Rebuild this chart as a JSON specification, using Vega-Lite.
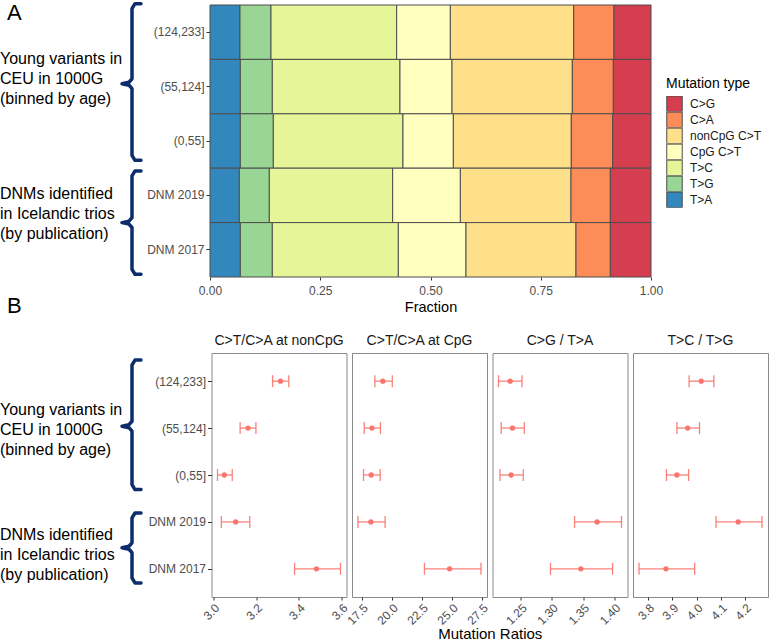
{
  "$schema": "https://vega.github.io/schema/vega-lite/v6.json",
  "padding": {"left": 0, "top": 1, "right": 0, "bottom": 0},
  "config": {
    "font": "Liberation Sans",
    "view": {"stroke": "#8a8a8a", "strokeWidth": 1},
    "axis": {"labelColor": "#4d4d4d", "labelFontSize": 12, "tickColor": "#333333", "tickSize": 4, "domain": false, "grid": false, "titleColor": "#000000", "titleFontWeight": "normal", "labelFont": "Liberation Sans", "titleFont": "Liberation Sans", "labelOverlap": false},
    "title": {"fontWeight": "normal", "color": "#1a1a1a", "font": "Liberation Sans"},
    "legend": {"labelFont": "Liberation Sans", "titleFont": "Liberation Sans"}
  },
  "datasets": {
    "fractions": [
      {"group": "(124,233]", "type": "T>A", "k": 1, "fraction": 0.068},
      {"group": "(124,233]", "type": "T>G", "k": 2, "fraction": 0.0703},
      {"group": "(124,233]", "type": "T>C", "k": 3, "fraction": 0.285},
      {"group": "(124,233]", "type": "CpG C>T", "k": 4, "fraction": 0.1217},
      {"group": "(124,233]", "type": "nonCpG C>T", "k": 5, "fraction": 0.2797},
      {"group": "(124,233]", "type": "C>A", "k": 6, "fraction": 0.0914},
      {"group": "(124,233]", "type": "C>G", "k": 7, "fraction": 0.0839},
      {"group": "(55,124]", "type": "T>A", "k": 1, "fraction": 0.0688},
      {"group": "(55,124]", "type": "T>G", "k": 2, "fraction": 0.0725},
      {"group": "(55,124]", "type": "T>C", "k": 3, "fraction": 0.2895},
      {"group": "(55,124]", "type": "CpG C>T", "k": 4, "fraction": 0.118},
      {"group": "(55,124]", "type": "nonCpG C>T", "k": 5, "fraction": 0.2728},
      {"group": "(55,124]", "type": "C>A", "k": 6, "fraction": 0.093},
      {"group": "(55,124]", "type": "C>G", "k": 7, "fraction": 0.0854},
      {"group": "(0,55]", "type": "T>A", "k": 1, "fraction": 0.0688},
      {"group": "(0,55]", "type": "T>G", "k": 2, "fraction": 0.0748},
      {"group": "(0,55]", "type": "T>C", "k": 3, "fraction": 0.294},
      {"group": "(0,55]", "type": "CpG C>T", "k": 4, "fraction": 0.1142},
      {"group": "(0,55]", "type": "nonCpG C>T", "k": 5, "fraction": 0.2675},
      {"group": "(0,55]", "type": "C>A", "k": 6, "fraction": 0.0938},
      {"group": "(0,55]", "type": "C>G", "k": 7, "fraction": 0.0869},
      {"group": "DNM 2019", "type": "T>A", "k": 1, "fraction": 0.0665},
      {"group": "DNM 2019", "type": "T>G", "k": 2, "fraction": 0.068},
      {"group": "DNM 2019", "type": "T>C", "k": 3, "fraction": 0.2797},
      {"group": "DNM 2019", "type": "CpG C>T", "k": 4, "fraction": 0.1535},
      {"group": "DNM 2019", "type": "nonCpG C>T", "k": 5, "fraction": 0.2509},
      {"group": "DNM 2019", "type": "C>A", "k": 6, "fraction": 0.0892},
      {"group": "DNM 2019", "type": "C>G", "k": 7, "fraction": 0.0922},
      {"group": "DNM 2017", "type": "T>A", "k": 1, "fraction": 0.0688},
      {"group": "DNM 2017", "type": "T>G", "k": 2, "fraction": 0.0725},
      {"group": "DNM 2017", "type": "T>C", "k": 3, "fraction": 0.2858},
      {"group": "DNM 2017", "type": "CpG C>T", "k": 4, "fraction": 0.1534},
      {"group": "DNM 2017", "type": "nonCpG C>T", "k": 5, "fraction": 0.2494},
      {"group": "DNM 2017", "type": "C>A", "k": 6, "fraction": 0.0779},
      {"group": "DNM 2017", "type": "C>G", "k": 7, "fraction": 0.0922}
    ],
    "ratios": [
      {"ratio": "C>T/C>A at nonCpG", "group": "(124,233]", "value": 3.314, "lo": 3.277, "hi": 3.353},
      {"ratio": "C>T/C>A at nonCpG", "group": "(55,124]", "value": 3.162, "lo": 3.125, "hi": 3.199},
      {"ratio": "C>T/C>A at nonCpG", "group": "(0,55]", "value": 3.051, "lo": 3.019, "hi": 3.088},
      {"ratio": "C>T/C>A at nonCpG", "group": "DNM 2019", "value": 3.104, "lo": 3.037, "hi": 3.17},
      {"ratio": "C>T/C>A at nonCpG", "group": "DNM 2017", "value": 3.482, "lo": 3.38, "hi": 3.595},
      {"ratio": "C>T/C>A at CpG", "group": "(124,233]", "value": 19.24, "lo": 18.58, "hi": 20.03},
      {"ratio": "C>T/C>A at CpG", "group": "(55,124]", "value": 18.33, "lo": 17.69, "hi": 19.04},
      {"ratio": "C>T/C>A at CpG", "group": "(0,55]", "value": 18.27, "lo": 17.63, "hi": 19.02},
      {"ratio": "C>T/C>A at CpG", "group": "DNM 2019", "value": 18.24, "lo": 17.17, "hi": 19.43},
      {"ratio": "C>T/C>A at CpG", "group": "DNM 2017", "value": 24.81, "lo": 22.71, "hi": 27.43},
      {"ratio": "C>G / T>A", "group": "(124,233]", "value": 1.233, "lo": 1.2144, "hi": 1.252},
      {"ratio": "C>G / T>A", "group": "(55,124]", "value": 1.2367, "lo": 1.2187, "hi": 1.2557},
      {"ratio": "C>G / T>A", "group": "(0,55]", "value": 1.2346, "lo": 1.2167, "hi": 1.2541},
      {"ratio": "C>G / T>A", "group": "DNM 2019", "value": 1.3722, "lo": 1.3362, "hi": 1.4113},
      {"ratio": "C>G / T>A", "group": "DNM 2017", "value": 1.3462, "lo": 1.2976, "hi": 1.397},
      {"ratio": "T>C / T>G", "group": "(124,233]", "value": 4.019, "lo": 3.969, "hi": 4.071},
      {"ratio": "T>C / T>G", "group": "(55,124]", "value": 3.963, "lo": 3.919, "hi": 4.012},
      {"ratio": "T>C / T>G", "group": "(0,55]", "value": 3.919, "lo": 3.876, "hi": 3.967},
      {"ratio": "T>C / T>G", "group": "DNM 2019", "value": 4.171, "lo": 4.08, "hi": 4.269},
      {"ratio": "T>C / T>G", "group": "DNM 2017", "value": 3.874, "lo": 3.763, "hi": 3.992}
    ],
    "bracesA": [
      {"b": "A1", "i": 1, "x": 141, "y": -0.024},
      {"b": "A1", "i": 2, "x": 135, "y": -0.024},
      {"b": "A1", "i": 3, "x": 132, "y": 0.066},
      {"b": "A1", "i": 4, "x": 132, "y": 1.357},
      {"b": "A1", "i": 5, "x": 129, "y": 1.42},
      {"b": "A1", "i": 6, "x": 122, "y": 1.447},
      {"b": "A1", "i": 7, "x": 129, "y": 1.474},
      {"b": "A1", "i": 8, "x": 132, "y": 1.537},
      {"b": "A1", "i": 9, "x": 132, "y": 2.765},
      {"b": "A1", "i": 10, "x": 135, "y": 2.855},
      {"b": "A1", "i": 11, "x": 141, "y": 2.855},
      {"b": "A2", "i": 1, "x": 141, "y": 3.05},
      {"b": "A2", "i": 2, "x": 135, "y": 3.05},
      {"b": "A2", "i": 3, "x": 132, "y": 3.14},
      {"b": "A2", "i": 4, "x": 132, "y": 3.91},
      {"b": "A2", "i": 5, "x": 129, "y": 3.973},
      {"b": "A2", "i": 6, "x": 122, "y": 4.0},
      {"b": "A2", "i": 7, "x": 129, "y": 4.027},
      {"b": "A2", "i": 8, "x": 132, "y": 4.09},
      {"b": "A2", "i": 9, "x": 132, "y": 4.86},
      {"b": "A2", "i": 10, "x": 135, "y": 4.95},
      {"b": "A2", "i": 11, "x": 141, "y": 4.95}
    ],
    "bracesB": [
      {"b": "B1", "i": 1, "x": 141, "y": -0.45},
      {"b": "B1", "i": 2, "x": 135, "y": -0.45},
      {"b": "B1", "i": 3, "x": 132, "y": -0.345},
      {"b": "B1", "i": 4, "x": 132, "y": 0.855},
      {"b": "B1", "i": 5, "x": 129, "y": 0.928},
      {"b": "B1", "i": 6, "x": 122, "y": 0.96},
      {"b": "B1", "i": 7, "x": 129, "y": 0.992},
      {"b": "B1", "i": 8, "x": 132, "y": 1.065},
      {"b": "B1", "i": 9, "x": 132, "y": 2.205},
      {"b": "B1", "i": 10, "x": 135, "y": 2.31},
      {"b": "B1", "i": 11, "x": 141, "y": 2.31},
      {"b": "B2", "i": 1, "x": 141, "y": 2.81},
      {"b": "B2", "i": 2, "x": 135, "y": 2.81},
      {"b": "B2", "i": 3, "x": 132, "y": 2.915},
      {"b": "B2", "i": 4, "x": 132, "y": 3.445},
      {"b": "B2", "i": 5, "x": 129, "y": 3.518},
      {"b": "B2", "i": 6, "x": 122, "y": 3.55},
      {"b": "B2", "i": 7, "x": 129, "y": 3.582},
      {"b": "B2", "i": 8, "x": 132, "y": 3.655},
      {"b": "B2", "i": 9, "x": 132, "y": 4.195},
      {"b": "B2", "i": 10, "x": 135, "y": 4.3},
      {"b": "B2", "i": 11, "x": 141, "y": 4.3}
    ],
    "labelsA": [
      {"t": "Young variants in\nCEU in 1000G\n(binned by age)", "x": 0, "y": 1.09},
      {"t": "DNMs identified\nin Icelandic trios\n(by publication)", "x": 0, "y": 3.56}
    ],
    "lettersA": [
      {"t": "A", "x": 7, "y": 0.276},
      {"t": "B", "x": 7, "y": 5.656}
    ],
    "labelsB": [
      {"t": "Young variants in\nCEU in 1000G\n(binned by age)", "x": 0, "y": 0.72},
      {"t": "DNMs identified\nin Icelandic trios\n(by publication)", "x": 0, "y": 3.38}
    ]
  },
  "vconcat": [
    {
      "hconcat": [
        {
          "width": 205,
          "height": 272,
          "view": {"stroke": null},
          "layer": [
            {
              "data": {"name": "bracesA"},
              "mark": {"type": "line", "color": "#0c2c6c", "strokeWidth": 3.5, "strokeJoin": "round", "strokeCap": "round"},
              "encoding": {
                "x": {"field": "x", "type": "quantitative", "scale": {"domain": [0, 205], "nice": false}, "axis": null},
                "y": {"field": "y", "type": "quantitative", "scale": {"domain": [0, 5], "reverse": true, "nice": false}, "axis": null},
                "detail": {"field": "b", "type": "nominal"},
                "order": {"field": "i", "type": "quantitative"}
              }
            },
            {
              "data": {"name": "labelsA"},
              "mark": {"type": "text", "align": "left", "baseline": "alphabetic", "lineBreak": "\n", "lineHeight": 20, "fontSize": 16, "color": "#000000"},
              "encoding": {
                "x": {"field": "x", "type": "quantitative"},
                "y": {"field": "y", "type": "quantitative"},
                "text": {"field": "t"}
              }
            },
            {
              "data": {"name": "lettersA"},
              "mark": {"type": "text", "align": "left", "baseline": "alphabetic", "fontSize": 22, "color": "#000000"},
              "encoding": {
                "x": {"field": "x", "type": "quantitative"},
                "y": {"field": "y", "type": "quantitative"},
                "text": {"field": "t"}
              }
            }
          ]
        },
        {
          "width": 441,
          "height": 272,
          "view": {"stroke": null},
          "data": {"name": "fractions"},
          "mark": {"type": "bar", "stroke": "#4d4d4d", "strokeWidth": 1},
          "encoding": {
            "y": {"field": "group", "type": "nominal", "sort": ["(124,233]", "(55,124]", "(0,55]", "DNM 2019", "DNM 2017"], "scale": {"paddingInner": 0, "paddingOuter": 0}, "axis": {"title": null, "labelPadding": 2}},
            "x": {"field": "fraction", "type": "quantitative", "stack": "zero", "scale": {"domain": [0, 1], "nice": false}, "axis": {"title": "Fraction", "values": [0, 0.25, 0.5, 0.75, 1], "format": ".2f", "labelFlush": false, "tickSize": 3, "labelPadding": 5, "titleFontSize": 14.5, "titlePadding": 4, "tickCount": 10}},
            "color": {
              "field": "type", "type": "nominal",
              "scale": {"domain": ["C>G", "C>A", "nonCpG C>T", "CpG C>T", "T>C", "T>G", "T>A"], "range": ["#d53e4f", "#fc8d59", "#fee08b", "#ffffbf", "#e6f598", "#99d594", "#3288bd"]},
              "legend": {"title": "Mutation type", "orient": "none", "legendX": 666, "legendY": 72, "titleFontSize": 14, "titleFontWeight": "normal", "titleColor": "#000000", "titlePadding": 5, "labelFontSize": 12, "labelColor": "#1a1a1a", "symbolType": "square", "symbolSize": 240, "symbolStrokeColor": "#4d4d4d", "symbolStrokeWidth": 1, "symbolOpacity": 1, "rowPadding": 0, "clipHeight": 15.7, "labelOffset": 7}
            },
            "order": {"field": "k", "type": "quantitative"}
          }
        }
      ],
      "spacing": 5,
      "bounds": "flush"
    },
    {
      "hconcat": [
        {
          "width": 206,
          "height": 244,
          "view": {"stroke": null},
          "layer": [
            {
              "data": {"name": "bracesB"},
              "mark": {"type": "line", "color": "#0c2c6c", "strokeWidth": 3.5, "strokeJoin": "round", "strokeCap": "round"},
              "encoding": {
                "x": {"field": "x", "type": "quantitative", "scale": {"domain": [0, 206], "nice": false}, "axis": null},
                "y": {"field": "y", "type": "quantitative", "scale": {"domain": [-0.6, 4.6], "reverse": true, "nice": false, "zero": false}, "axis": null},
                "detail": {"field": "b", "type": "nominal"},
                "order": {"field": "i", "type": "quantitative"}
              }
            },
            {
              "data": {"name": "labelsB"},
              "mark": {"type": "text", "align": "left", "baseline": "alphabetic", "lineBreak": "\n", "lineHeight": 20, "fontSize": 16, "color": "#000000"},
              "encoding": {
                "x": {"field": "x", "type": "quantitative"},
                "y": {"field": "y", "type": "quantitative"},
                "text": {"field": "t"}
              }
            }
          ]
        },
        {
          "width": 135,
          "height": 244,
          "title": {"text": "C>T/C>A at nonCpG", "fontSize": 14, "offset": 5},
          "data": {"name": "ratios"},
          "transform": [{"filter": {"field": "ratio", "equal": "C>T/C>A at nonCpG"}}],
          "encoding": {
            "y": {"field": "group", "type": "nominal", "sort": ["(124,233]", "(55,124]", "(0,55]", "DNM 2019", "DNM 2017"], "scale": {"type": "point", "padding": 0.6}, "axis": {"title": null, "labelPadding": 2}}
          },
          "layer": [
            {"mark": {"type": "rule", "color": "#f8766d", "strokeWidth": 1.3, "opacity": 0.9}, "encoding": {"x": {"field": "lo", "type": "quantitative", "scale": {"zero": false, "nice": false, "padding": 6}, "axis": {"title": null, "values": [3.0, 3.2, 3.4, 3.6], "tickCount": 10, "format": ".1f", "labelAngle": -45, "labelAlign": "right", "labelBaseline": "top", "tickSize": 3, "labelPadding": 2, "labelFlush": false, "labelOverlap": false}}, "x2": {"field": "hi"}}},
            {"mark": {"type": "tick", "color": "#f8766d", "size": 12, "thickness": 1.3, "opacity": 0.9}, "encoding": {"x": {"field": "lo", "type": "quantitative", "axis": {"title": null}}}},
            {"mark": {"type": "tick", "color": "#f8766d", "size": 12, "thickness": 1.3, "opacity": 0.9}, "encoding": {"x": {"field": "hi", "type": "quantitative", "axis": {"title": null}}}},
            {"mark": {"type": "point", "filled": true, "size": 28, "color": "#f8766d", "opacity": 1}, "encoding": {"x": {"field": "value", "type": "quantitative", "axis": {"title": null}}}}
          ]
        },
        {
          "width": 135,
          "height": 244,
          "title": {"text": "C>T/C>A at CpG", "fontSize": 14, "offset": 5},
          "data": {"name": "ratios"},
          "transform": [{"filter": {"field": "ratio", "equal": "C>T/C>A at CpG"}}],
          "encoding": {
            "y": {"field": "group", "type": "nominal", "sort": ["(124,233]", "(55,124]", "(0,55]", "DNM 2019", "DNM 2017"], "scale": {"type": "point", "padding": 0.6}, "axis": null}
          },
          "layer": [
            {"mark": {"type": "rule", "color": "#f8766d", "strokeWidth": 1.3, "opacity": 0.9}, "encoding": {"x": {"field": "lo", "type": "quantitative", "scale": {"zero": false, "nice": false, "padding": 6}, "axis": {"title": null, "values": [17.5, 20, 22.5, 25, 27.5], "tickCount": 10, "format": ".1f", "labelAngle": -45, "labelAlign": "right", "labelBaseline": "top", "tickSize": 3, "labelPadding": 2, "labelFlush": false, "labelOverlap": false}}, "x2": {"field": "hi"}}},
            {"mark": {"type": "tick", "color": "#f8766d", "size": 12, "thickness": 1.3, "opacity": 0.9}, "encoding": {"x": {"field": "lo", "type": "quantitative", "axis": {"title": null}}}},
            {"mark": {"type": "tick", "color": "#f8766d", "size": 12, "thickness": 1.3, "opacity": 0.9}, "encoding": {"x": {"field": "hi", "type": "quantitative", "axis": {"title": null}}}},
            {"mark": {"type": "point", "filled": true, "size": 28, "color": "#f8766d", "opacity": 1}, "encoding": {"x": {"field": "value", "type": "quantitative", "axis": {"title": null}}}}
          ]
        },
        {
          "width": 135,
          "height": 244,
          "title": {"text": "C>G / T>A", "fontSize": 14, "offset": 5},
          "data": {"name": "ratios"},
          "transform": [{"filter": {"field": "ratio", "equal": "C>G / T>A"}}],
          "encoding": {
            "y": {"field": "group", "type": "nominal", "sort": ["(124,233]", "(55,124]", "(0,55]", "DNM 2019", "DNM 2017"], "scale": {"type": "point", "padding": 0.6}, "axis": null}
          },
          "layer": [
            {"mark": {"type": "rule", "color": "#f8766d", "strokeWidth": 1.3, "opacity": 0.9}, "encoding": {"x": {"field": "lo", "type": "quantitative", "scale": {"zero": false, "nice": false, "padding": 6}, "axis": {"title": null, "values": [1.25, 1.3, 1.35, 1.4], "tickCount": 10, "format": ".2f", "labelAngle": -45, "labelAlign": "right", "labelBaseline": "top", "tickSize": 3, "labelPadding": 2, "labelFlush": false, "labelOverlap": false}}, "x2": {"field": "hi"}}},
            {"mark": {"type": "tick", "color": "#f8766d", "size": 12, "thickness": 1.3, "opacity": 0.9}, "encoding": {"x": {"field": "lo", "type": "quantitative", "axis": {"title": null}}}},
            {"mark": {"type": "tick", "color": "#f8766d", "size": 12, "thickness": 1.3, "opacity": 0.9}, "encoding": {"x": {"field": "hi", "type": "quantitative", "axis": {"title": null}}}},
            {"mark": {"type": "point", "filled": true, "size": 28, "color": "#f8766d", "opacity": 1}, "encoding": {"x": {"field": "value", "type": "quantitative", "axis": {"title": null}}}}
          ]
        },
        {
          "width": 135,
          "height": 244,
          "title": {"text": "T>C / T>G", "fontSize": 14, "offset": 5},
          "data": {"name": "ratios"},
          "transform": [{"filter": {"field": "ratio", "equal": "T>C / T>G"}}],
          "encoding": {
            "y": {"field": "group", "type": "nominal", "sort": ["(124,233]", "(55,124]", "(0,55]", "DNM 2019", "DNM 2017"], "scale": {"type": "point", "padding": 0.6}, "axis": null}
          },
          "layer": [
            {"mark": {"type": "rule", "color": "#f8766d", "strokeWidth": 1.3, "opacity": 0.9}, "encoding": {"x": {"field": "lo", "type": "quantitative", "scale": {"zero": false, "nice": false, "padding": 6}, "axis": {"title": null, "values": [3.8, 3.9, 4.0, 4.1, 4.2], "tickCount": 10, "format": ".1f", "labelAngle": -45, "labelAlign": "right", "labelBaseline": "top", "tickSize": 3, "labelPadding": 2, "labelFlush": false, "labelOverlap": false}}, "x2": {"field": "hi"}}},
            {"mark": {"type": "tick", "color": "#f8766d", "size": 12, "thickness": 1.3, "opacity": 0.9}, "encoding": {"x": {"field": "lo", "type": "quantitative", "axis": {"title": null}}}},
            {"mark": {"type": "tick", "color": "#f8766d", "size": 12, "thickness": 1.3, "opacity": 0.9}, "encoding": {"x": {"field": "hi", "type": "quantitative", "axis": {"title": null}}}},
            {"mark": {"type": "point", "filled": true, "size": 28, "color": "#f8766d", "opacity": 1}, "encoding": {"x": {"field": "value", "type": "quantitative", "axis": {"title": null}}}}
          ]
        }
      ],
      "spacing": 5.5,
      "bounds": "flush",
      "title": {"text": "Mutation Ratios", "orient": "bottom", "anchor": "middle", "dx": 106, "fontSize": 15, "fontWeight": "normal", "color": "#000000", "offset": 0}
    }
  ],
  "spacing": 16
}
